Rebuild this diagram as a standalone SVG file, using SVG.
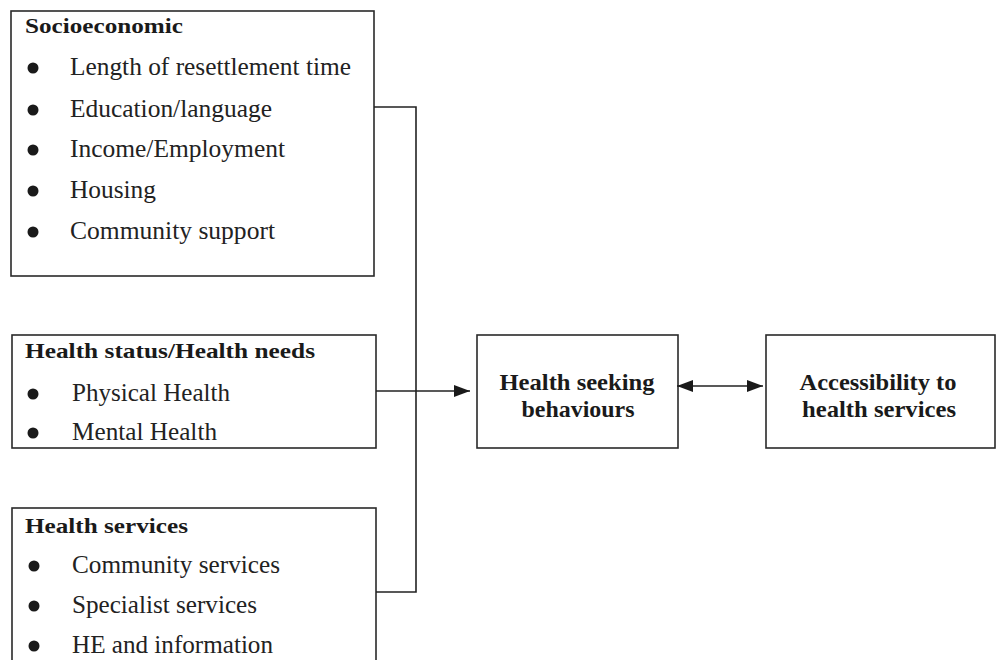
<svg xmlns="http://www.w3.org/2000/svg" width="997" height="660" viewBox="0 0 997 660">
<defs>
<style>
.box{fill:none;stroke:#2a2a2a;stroke-width:1.6}
.ln{fill:none;stroke:#222;stroke-width:1.6}
text{font-family:'Liberation Serif','Times New Roman',Times,serif}
.t{font-size:25px;fill:#222}
.h{font-size:22px;font-weight:bold;fill:#1a1a1a}
.c{font-size:24px;font-weight:bold;fill:#1a1a1a;text-anchor:middle}
.b{fill:#1a1a1a}
</style>
<marker id="ah" viewBox="0 0 16 12" refX="16" refY="6" markerWidth="16" markerHeight="12" markerUnits="userSpaceOnUse" orient="auto-start-reverse">
<path d="M0,0 L16,6 L0,12 Z" fill="#1a1a1a"/>
</marker>
</defs>
<rect width="997" height="660" fill="#fff"/>
<g id="socioeconomic">
<rect class="box" x="11" y="11" width="363" height="265"/>
<text class="h" x="25" y="33" textLength="158" lengthAdjust="spacingAndGlyphs">Socioeconomic</text>
<circle class="b" cx="33" cy="68" r="5.5"/><text class="t" x="70" y="75" textLength="281" lengthAdjust="spacingAndGlyphs">Length of resettlement time</text>
<circle class="b" cx="33" cy="110" r="5.5"/><text class="t" x="70" y="117" textLength="202" lengthAdjust="spacingAndGlyphs">Education/language</text>
<circle class="b" cx="33" cy="150" r="5.5"/><text class="t" x="70" y="157" textLength="215" lengthAdjust="spacingAndGlyphs">Income/Employment</text>
<circle class="b" cx="33" cy="191" r="5.5"/><text class="t" x="70" y="198" textLength="86" lengthAdjust="spacingAndGlyphs">Housing</text>
<circle class="b" cx="33" cy="232" r="5.5"/><text class="t" x="70" y="239" textLength="205" lengthAdjust="spacingAndGlyphs">Community support</text>
</g>
<g id="health-status">
<rect class="box" x="12" y="335" width="364" height="113"/>
<text class="h" x="25" y="358" textLength="290" lengthAdjust="spacingAndGlyphs">Health status/Health needs</text>
<circle class="b" cx="33" cy="394" r="5.5"/><text class="t" x="72" y="401" textLength="158" lengthAdjust="spacingAndGlyphs">Physical Health</text>
<circle class="b" cx="33" cy="433" r="5.5"/><text class="t" x="72" y="440" textLength="145" lengthAdjust="spacingAndGlyphs">Mental Health</text>
</g>
<g id="health-services">
<rect class="box" x="12" y="508" width="364" height="170"/>
<text class="h" x="25" y="533" textLength="163" lengthAdjust="spacingAndGlyphs">Health services</text>
<circle class="b" cx="34" cy="566" r="5.5"/><text class="t" x="72" y="573" textLength="208" lengthAdjust="spacingAndGlyphs">Community services</text>
<circle class="b" cx="34" cy="606" r="5.5"/><text class="t" x="72" y="613" textLength="185" lengthAdjust="spacingAndGlyphs">Specialist services</text>
<circle class="b" cx="34" cy="646" r="5.5"/><text class="t" x="72" y="653" textLength="201" lengthAdjust="spacingAndGlyphs">HE and information</text>
</g>
<g id="health-seeking">
<rect class="box" x="477" y="335" width="201" height="113"/>
<text class="c" x="577" y="390" textLength="155" lengthAdjust="spacingAndGlyphs">Health seeking</text>
<text class="c" x="578" y="417" textLength="113" lengthAdjust="spacingAndGlyphs">behaviours</text>
</g>
<g id="accessibility">
<rect class="box" x="766" y="335" width="229" height="113"/>
<text class="c" x="878" y="390" textLength="157" lengthAdjust="spacingAndGlyphs">Accessibility to</text>
<text class="c" x="879" y="417" textLength="154" lengthAdjust="spacingAndGlyphs">health services</text>
</g>
<g id="connectors">
<path class="ln" d="M374,107 H416 V592 H376"/>
<path class="ln" d="M376,391 H470" marker-end="url(#ah)"/>
<path class="ln" d="M677,386 H763" marker-start="url(#ah)" marker-end="url(#ah)"/>
</g>
</svg>
